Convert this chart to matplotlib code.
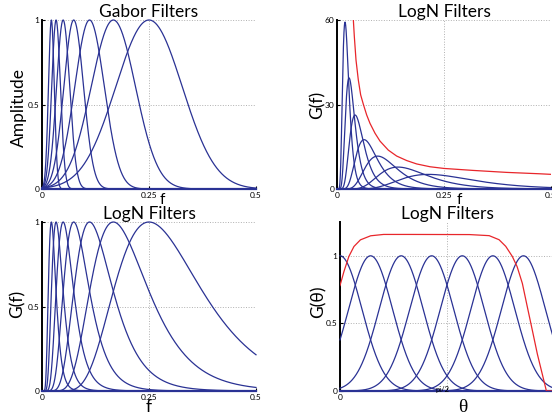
import numpy as np
import matplotlib.pyplot as plt

plt.rcParams['font.family'] = ['Lato', 'DejaVu Sans']

# Centre frequencies (about 1.5 between scales)
f0 = [0.25, 0.1667, 0.1111, 0.0741, 0.0494, 0.0329, 0.0219]
gabor_bw = 0.31      # sigma/f0 of the linear Gabor filters
logn_sigma = 0.395   # std of ln(f) of the log-normal filters
logn_gain = 1.2      # gain of the 1/f weighted filters (top right)

# Red curve of the top right panel
red_f = [0.0382, 0.0405, 0.0444, 0.0498, 0.0553, 0.0615, 0.0693, 0.0771,
         0.0888, 0.1005, 0.1199, 0.1394, 0.1628, 0.1861, 0.2173, 0.25,
         0.3178, 0.396, 0.474, 0.5]
red_g = [60.0, 54.1, 45.8, 38.7, 33.4, 30.1, 26.3, 23.3, 19.8, 17.0,
         13.8, 11.7, 10.1, 8.9, 7.9, 7.3, 6.6, 5.9, 5.4, 5.2]

# Orientation filters (bottom right)
theta0 = [0.0, 0.449, 0.898, 1.346, 1.795, 2.244, 2.693]
theta_sigma = 0.322
red_theta = [0.0, 0.058, 0.13, 0.205, 0.30, 0.45, 0.64, 1.0, 1.9, 2.19,
             2.335, 2.433, 2.53, 2.60, 2.677, 2.75, 2.824, 2.897, 2.97,
             3.03, 3.1416]
red_gtheta = [0.78, 0.884, 0.995, 1.069, 1.118, 1.148, 1.158, 1.158,
              1.157, 1.149, 1.119, 1.07, 0.995, 0.92, 0.796, 0.622,
              0.448, 0.274, 0.124, 0.0, 0.0]

blue = '#2a3294'
red = '#e8262b'

f = np.linspace(1e-5, 0.5, 2000)
th = np.linspace(0, np.pi, 1000)


def style(ax, xt, xtl, yt, ytl, xlim, ylim):
    ax.set_xlim(xlim)
    ax.set_ylim(ylim)
    ax.set_xticks(xt)
    ax.set_xticklabels(xtl)
    ax.set_yticks(yt)
    ax.set_yticklabels(ytl)
    ax.spines['top'].set_visible(False)
    ax.spines['right'].set_visible(False)
    ax.spines['left'].set_linewidth(1.4)
    # the curves pile up on the zero line
    ax.spines['bottom'].set_color(blue)
    ax.spines['bottom'].set_linewidth(1.6)
    ax.grid(True, ls=':', color='#b0b0b0', lw=0.7)
    ax.tick_params(direction='in', length=2, labelsize=6, pad=2)


fig = plt.figure(figsize=(5.52, 4.16), dpi=100)
w, h = 214 / 552, 169 / 416
ax1 = fig.add_axes([42 / 552, 1 - 189 / 416, w, h])
ax2 = fig.add_axes([337 / 552, 1 - 189 / 416, w, h])
ax3 = fig.add_axes([42 / 552, 1 - 391 / 416, w, h])
ax4 = fig.add_axes([340 / 552, 1 - 391 / 416, w, h])

# Gabor filters
for c in f0:
    g = np.exp(-(f - c) ** 2 / (2 * (gabor_bw * c) ** 2))
    ax1.plot(f, g, color=blue, lw=0.9, zorder=3, clip_on=False)
style(ax1, [0, 0.25, 0.5], ['0', '0.25', '0.5'], [0, 0.5, 1], ['0', '0.5', '1'],
      (0, 0.5), (0, 1))
ax1.set_title('Gabor Filters', fontsize=12.5, pad=0)
ax1.set_ylabel('Amplitude', fontsize=12.5)
ax1.yaxis.set_label_coords(-0.068, 0.485)
ax1.set_xlabel('f', fontsize=11, va='top')
ax1.xaxis.set_label_coords(0.56, -0.025)

# LogN filters weighted by 1/f
for c in f0:
    g = logn_gain / f * np.exp(-np.log(f / c) ** 2 / (2 * logn_sigma ** 2))
    ax2.plot(f, g, color=blue, lw=0.9, zorder=3)
ax2.plot(red_f, red_g, color=red, lw=0.9, zorder=3)
style(ax2, [0, 0.25, 0.5], ['0', '0.25', '0.5'], [0, 30, 60], ['0', '30', '60'],
      (0, 0.5), (0, 60))
ax2.set_title('LogN Filters', fontsize=12.5, pad=0)
ax2.set_ylabel('G(f)', fontsize=12.5)
ax2.yaxis.set_label_coords(-0.052, 0.497)
ax2.set_xlabel('f', fontsize=11, va='top')
ax2.xaxis.set_label_coords(0.57, -0.025)

# LogN filters, normalised
for c in f0:
    g = np.exp(-np.log(f / c) ** 2 / (2 * logn_sigma ** 2))
    ax3.plot(f, g, color=blue, lw=0.9, zorder=3, clip_on=False)
style(ax3, [0, 0.25, 0.5], ['0', '0.25', '0.5'], [0, 0.5, 1], ['0', '0.5', '1'],
      (0, 0.5), (0, 1))
ax3.set_title('LogN Filters', fontsize=12.5, pad=0)
ax3.set_ylabel('G(f)', fontsize=12.5)
ax3.yaxis.set_label_coords(-0.075, 0.515)
ax3.set_xlabel('f', fontsize=12.5, va='top')
ax3.xaxis.set_label_coords(0.5, -0.05)

# Orientation filters
for c in theta0:
    g = np.exp(-(th - c) ** 2 / (2 * theta_sigma ** 2))
    ax4.plot(th, g, color=blue, lw=0.9, zorder=3, clip_on=False)
ax4.plot(red_theta, red_gtheta, color=red, lw=0.9, zorder=3)
style(ax4, [0, np.pi / 2, np.pi], ['0', '', ''], [0, 0.5, 1], ['0', '0.5', '1'],
      (0, np.pi), (0, 1.25))
ax4.text(np.pi / 2 - 0.06, -0.005, 'pi/2', fontsize=5.5, ha='center',
         va='baseline', zorder=5)
ax4.set_title('LogN Filters', fontsize=12.5, pad=0)
ax4.set_ylabel('G(θ)', fontsize=12.5)
ax4.yaxis.set_label_coords(-0.061, 0.528)
ax4.set_xlabel('θ', fontsize=14, va='top', family=['Liberation Serif'])
ax4.xaxis.set_label_coords(0.573, -0.05)

fig.savefig('out.png', dpi=100)
